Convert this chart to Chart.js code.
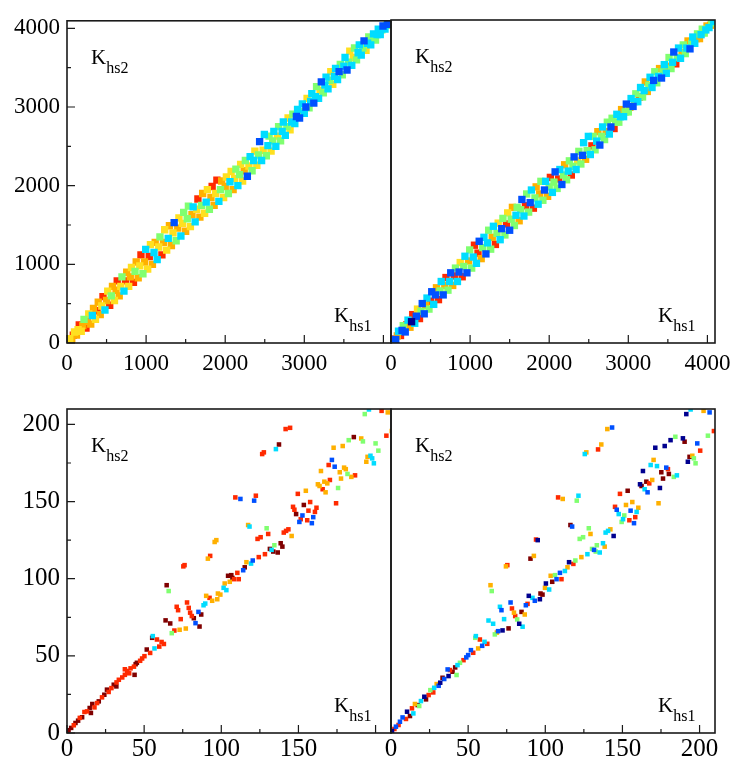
<!DOCTYPE html>
<html>
<head>
<meta charset="utf-8">
<script src="https://cdn.jsdelivr.net/npm/chart.js@4.4.0/dist/chart.umd.min.js"></script>
<style>
  body { margin: 0; background: #fff; }
  #wrap { position: relative; width: 747px; height: 778px; }
  #wrap canvas { position: absolute; left: 0; top: 0; }
</style>
</head>
<body>
<div id="wrap">
  <canvas id="topLeft" width="747" height="778"></canvas>
  <canvas id="topRight" width="747" height="778"></canvas>
  <canvas id="bottomLeft" width="747" height="778"></canvas>
  <canvas id="bottomRight" width="747" height="778"></canvas>
</div>
<script>
// colour classes (jet-like), indexed by the third value of every point
const colours = ['#00008f', '#0050ff', '#00dcff', '#80ff70', '#ffe020', '#ffb000', '#ff2a00', '#800000'];

// axis ranges and ticks
const topMax = 4096;
const topTicks = [0, 500, 1000, 1500, 2000, 2500, 3000, 3500, 4000];
const topLabelStep = 1000;
const bottomMax = 210;
const bottomTicks = [0, 25, 50, 75, 100, 125, 150, 175, 200];
const bottomLabelStep = 50;

// full range, first column: [Khs1, Khs2, colour]
const topLeftPoints = [
  [0,0,7],[20,25,5],[35,55,4], [60,40,5],[80,100,6],[95,140,4], [120,100,5],[140,170,4],[155,230,6],
  [180,150,4],[200,220,5],[215,300,3], [240,190,6],[260,280,5],[275,370,4], [300,240,5],[320,350,2],[335,440,5],
  [360,300,4],[380,410,6],[395,520,5], [420,360,5],[440,470,4],[455,590,6], [480,420,2],[500,540,5],[515,660,4],
  [540,480,6],[560,600,3],[575,720,5], [600,540,4],[620,670,5],[635,790,6], [660,600,5],[680,720,4],[695,840,3],
  [720,660,2],[740,790,6],[755,900,5], [780,720,4],[800,840,5],[815,960,4], [840,770,6],[860,910,3],[875,1030,5],
  [900,830,5],[920,980,4],[935,1120,6], [960,880,3],[980,1030,5],[995,1190,2], [1020,940,4],[1040,1100,6],[1055,1250,4],
  [1080,1000,5],[1100,1150,2],[1115,1280,5], [1140,1060,2],[1160,1220,4],[1175,1350,3], [1200,1120,6],[1220,1280,5],[1235,1440,4],
  [1260,1180,4],[1280,1330,2],[1295,1490,5], [1320,1240,5],[1340,1400,4],[1355,1530,1], [1380,1300,3],[1400,1460,5],[1415,1590,4],
  [1440,1360,2],[1460,1520,4],[1475,1660,3], [1500,1420,5],[1520,1580,3],[1535,1740,3], [1560,1480,4],[1580,1630,5],[1595,1730,2],
  [1620,1540,2],[1640,1700,4],[1655,1830,6], [1680,1600,5],[1700,1750,3],[1715,1900,5], [1740,1650,4],[1760,1790,2],[1775,1950,4],
  [1800,1700,3],[1820,1850,5],[1835,1990,6], [1860,1750,5],[1880,1900,4],[1895,2070,6], [1920,1800,2],[1940,1950,3],[1955,2060,5],
  [1980,1850,4],[2000,1990,5],[2015,2110,4], [2040,1900,3],[2060,2050,2],[2075,2180,4], [2100,1950,5],[2120,2090,4],[2135,2210,3],
  [2160,2000,2],[2180,2140,3],[2195,2270,4], [2220,2060,4],[2240,2190,5],[2255,2320,3], [2280,2120,1],[2300,2250,4],[2315,2370,2],
  [2340,2190,3],[2360,2320,2],[2375,2440,4], [2400,2260,4],[2420,2390,3],[2435,2560,1], [2460,2320,2],[2480,2450,4],[2495,2650,2],
  [2520,2380,3],[2540,2510,2],[2555,2630,3], [2580,2440,4],[2600,2570,3],[2615,2690,2], [2640,2500,2],[2660,2630,4],[2675,2750,3],
  [2700,2570,3],[2720,2690,2],[2735,2810,2], [2760,2640,2],[2780,2750,3],[2795,2860,4], [2820,2710,4],[2840,2810,2],[2855,2910,3],
  [2880,2790,2],[2900,2880,1],[2915,2970,2], [2940,2860,1],[2960,2940,3],[2975,3040,2], [3000,2920,2],[3020,3000,1],[3035,3110,4],
  [3060,2990,3],[3080,3070,2],[3095,3170,2], [3120,3050,1],[3140,3130,2],[3155,3260,3], [3180,3110,2],[3200,3210,4],[3215,3320,1],
  [3240,3180,3],[3260,3280,2],[3275,3380,2], [3300,3230,2],[3320,3340,3],[3335,3450,4], [3360,3290,4],[3380,3390,2],[3395,3490,2],
  [3420,3350,2],[3440,3450,1],[3455,3540,3], [3480,3410,3],[3500,3520,2],[3515,3630,2], [3540,3470,1],[3560,3570,3],[3575,3710,4],
  [3600,3530,2],[3620,3630,4],[3635,3750,3], [3660,3600,3],[3680,3690,2],[3695,3790,2], [3720,3660,2],[3740,3750,3],[3755,3840,1],
  [3780,3720,4],[3800,3810,2],[3815,3890,3], [3840,3790,2],[3860,3870,3],[3875,3930,2], [3900,3850,3],[3920,3920,2],[3935,3990,2],
  [3960,3920,2],[3980,3980,3],[3995,4030,1], [4020,3990,2],[4040,4040,3],[4055,4070,1], [4070,4050,1],[4080,4080,2],[4090,4090,1]
];

// full range, second column
const topRightPoints = [
  [0,0,7],[20,30,1],[35,50,6], [60,45,1],[80,90,5],[95,150,2], [120,95,6],[140,160,1],[155,220,3],
  [180,140,1],[200,230,6],[215,290,2], [240,200,5],[260,270,0],[275,360,6], [300,250,2],[320,340,1],[335,430,4],
  [360,310,6],[380,400,3],[395,500,1], [420,370,1],[440,480,5],[455,570,2], [480,430,3],[500,530,6],[515,650,1],
  [540,490,2],[560,610,1],[575,700,5], [600,550,6],[620,660,3],[635,780,2], [660,610,1],[680,730,5],[695,830,6],
  [720,670,3],[740,780,2],[755,890,1], [780,730,5],[800,850,6],[815,950,3], [840,780,2],[860,900,1],[875,1020,4],
  [900,840,6],[920,970,3],[935,1100,2], [960,890,1],[980,1040,5],[995,1180,3], [1020,950,3],[1040,1090,2],[1055,1240,6],
  [1080,1010,2],[1100,1140,6],[1115,1290,1], [1140,1070,5],[1160,1210,3],[1175,1340,2], [1200,1130,1],[1220,1270,2],[1235,1430,3],
  [1260,1190,3],[1280,1340,5],[1295,1480,2], [1320,1250,6],[1340,1390,3],[1355,1520,4], [1380,1310,2],[1400,1450,1],[1415,1580,3],
  [1440,1370,3],[1460,1510,6],[1475,1650,4], [1500,1430,1],[1520,1570,3],[1535,1720,5], [1560,1490,3],[1580,1620,2],[1595,1720,3],
  [1620,1550,5],[1640,1690,3],[1655,1820,1], [1680,1610,2],[1700,1740,6],[1715,1890,3], [1740,1660,3],[1760,1780,1],[1775,1940,2],
  [1800,1710,6],[1820,1840,3],[1835,1980,5], [1860,1760,2],[1880,1890,5],[1895,2050,3], [1920,1810,3],[1940,1940,1],[1955,2050,2],
  [1980,1860,5],[2000,1980,3],[2015,2100,6], [2040,1910,2],[2060,2040,3],[2075,2170,1], [2100,1960,3],[2120,2080,6],[2135,2200,2],
  [2160,2010,1],[2180,2130,3],[2195,2260,5], [2220,2070,3],[2240,2180,2],[2255,2310,3], [2280,2130,6],[2300,2240,3],[2315,2360,1],
  [2340,2200,2],[2360,2310,4],[2375,2430,3], [2400,2270,3],[2420,2380,1],[2435,2540,2], [2460,2330,5],[2480,2440,3],[2495,2620,2],
  [2520,2390,2],[2540,2500,6],[2555,2620,3], [2580,2450,3],[2600,2560,2],[2615,2680,5], [2640,2510,1],[2660,2620,3],[2675,2740,2],
  [2700,2580,3],[2720,2680,5],[2735,2800,3], [2760,2650,2],[2780,2740,1],[2795,2850,3], [2820,2720,6],[2840,2800,3],[2855,2900,2],
  [2880,2800,3],[2900,2870,2],[2915,2960,5], [2940,2870,2],[2960,2930,3],[2975,3030,1], [3000,2930,3],[3020,2990,5],[3035,3100,2],
  [3060,3000,1],[3080,3060,3],[3095,3160,3], [3120,3060,2],[3140,3120,6],[3155,3240,2], [3180,3120,3],[3200,3200,2],[3215,3310,5],
  [3240,3190,5],[3260,3270,3],[3275,3370,2], [3300,3240,2],[3320,3330,1],[3335,3440,3], [3360,3300,3],[3380,3380,2],[3395,3480,5],
  [3420,3360,1],[3440,3440,3],[3455,3530,2], [3480,3420,2],[3500,3510,5],[3515,3620,3], [3540,3480,3],[3560,3560,2],[3575,3690,1],
  [3600,3540,6],[3620,3620,3],[3635,3740,2], [3660,3610,2],[3680,3680,5],[3695,3780,3], [3720,3670,3],[3740,3740,2],[3755,3830,5],
  [3780,3730,1],[3800,3800,3],[3815,3880,2], [3840,3800,2],[3860,3860,5],[3875,3920,3], [3900,3860,5],[3920,3910,2],[3935,3980,3],
  [3960,3930,3],[3980,3970,2],[3995,4020,5], [4020,4000,2],[4040,4030,5],[4055,4060,3], [4070,4060,3],[4080,4080,2],[4090,4090,5]
];

// low range, first column
const bottomLeftPoints = [
  [0.2,0.5,7],[1,1.8,7],[2.7,3.3,7],[4.4,5,6],[5.5,6.5,7],[7.2,8,7],[8.3,9.8,6],[9.8,10.2,7],[11.3,13.6,6],[15.5,13,7],
  [13,14,6],[14.7,16.2,7],[17.8,16.6,6],[16.4,18.8,7],[19.5,19.4,6],[20.6,20.5,7],[22.7,23.1,6],[24.2,24.8,7],[27,26.6,6],[25.9,28.1,7],
  [28.8,29.1,6],[32,30.2,7],[30.3,31.3,7],[32.1,32.8,6],[33.6,34.5,6],[35.8,36,6],[37.5,37.7,6],[43.8,37.7,7],[40.3,38.7,6],[39,40.2,6],
  [37.5,41.3,6],[41.2,41.9,6],[43.4,43,6],[44.5,44.6,7],[45.3,45.5,7],[47.4,46.8,6],[48.7,48.3,6],[50.2,49.8,6],[53.9,51.9,6],[51.7,54.1,7],
  [56.7,54.8,2],[59.8,56,6],[62.8,57.7,6],[61.3,59,6],[58.3,60.6,6],[55.2,61.7,7],[55.6,62.8,2],[67.9,64.7,3],[69.6,66.4,6],[73,66.9,5],
  [77,67.7,5],[66.9,71,7],[63.9,73,7],[73.7,73.8,6],
  [114.2,105.5,1],[110.4,103.8,6],[111.3,99.7,6],[108.3,99.7,6],[106.5,102.3,7],[104.4,101.9,7],[107.2,100.5,7],[105.5,98,5],[102.2,96.9,5],[101.5,94.1,2],
  [103.3,92.6,2],[96.8,125,5],[95.7,123.8,5],[92.8,114.8,6],[91.3,113,5],[75.4,108,6],[76.2,108.8,6],[64.6,95.8,7],[65.9,92,3],[71.1,81.8,6],
  [72,79.6,6],[77.8,84.6,6],[78.9,81.1,6],[79.8,78,6],[80.9,75.8,6],[82.2,74.4,7],[83.3,71.2,1],[85.9,69,7],[85.2,78.5,1],[87,76.8,7],
  [88.5,82.8,2],[89.6,83.9,2],[90.2,88.9,5],[92.4,87.6,6],[94.1,85.7,5],[97.4,86.7,5],[97.8,90.4,5],[99.4,89.7,5],
  [195.7,209.7,2],[193,206.7,3],[203.9,208.8,6],[207.9,207.8,5],[207,192.7,6],[210.5,195.7,5],[141.7,197,6],[144.6,197.8,6],[126.5,180.8,6],[127.6,181.9,6],
  [137.4,187,7],[135.4,184,2],[185.9,191.8,7],[182.6,189.8,3],[190.7,190.9,5],[191.8,189,3],[200,187.7,3],[201.8,183,3],[172.8,184.9,5],[178.7,186,5],
  [169.6,173.7,6],[171.7,177,1],[173.5,172.6,1],[164.6,169.8,5],[179.6,172,5],[180.7,171,5],[176.8,169,5],[181.8,167.9,3],[175.7,158.8,3],[177.6,164.9,5],
  [184.3,166,5],[186.7,167,6],[194,175.8,5],[194.8,179,5],[196.7,179.7,2],[197.8,178,2],[198.9,174.8,2],[174.4,148.9,6],[170.4,164,6],[166.8,162.9,5],
  [168.7,161.8,5],[162.6,161.2,5],[163.7,160.1,5],[165.7,158,6],[167.6,156,5],[154.8,157,5],[149.6,155,6],[146.5,146.6,6],[147.4,144.7,6],[148.5,141.9,7],
  [153.5,147.8,7],[157.6,149.7,6],[161.7,146,6],[156.5,144.1,6],[160.7,143.3,6],[159.6,139.9,1],[152.6,141,1],[151.5,138.6,6],[150.6,136.8,1],[155.7,137.9,6],
  [158.7,136,1],[109.1,152.7,6],[112.4,151.7,1],[122.4,153.8,6],[121.3,150.6,1],[117.4,134.8,5],[118.3,133.8,2],[129.4,132.7,3],[130.4,129,6],[123.5,125.8,6],
  [125.5,126.9,6],[140.5,129.9,6],[142,131,6],[143.5,132,6],[145.6,127.7,5],[138.5,123,7],[139.6,120.8,7],[134.4,121.7,3],[131.5,119.3,7],[132.6,118.7,2],
  [133.7,117.6,7],[136.6,117,7],[128.3,115.9,6],[124.3,114,6],[120.4,111.8,1],[119.3,109.8,2],[116.3,110.7,5],[115.2,107.4,7]
];

// low range, second column
const bottomRightPoints = [
  [0.65,1.3,0],[2.2,2.6,6],[3.2,4.1,1],[4.9,5.2,6],[5.8,7.3,1],[9.7,9.1,6],[7.5,10.1,1],[12.3,11,7],[14.5,12.7,2],[10.4,13.8,0],
  [13.6,16,6],[17.3,18.1,7],[18.3,17.5,3],[15.5,18.8,5],[19.4,20.7,2],[22.7,21.8,7],[21.6,23.5,0],[24.4,24.6,6],[27.4,26.3,6],[25.5,27.8,3],
  [28,29.3,2],[30.9,30.6,1],[29.6,31.7,5],[31.9,32.6,0],[34.5,35,1],[33.4,35.8,7],[37.3,36.9,0],[42.5,37.6,3],[39.9,39.7,7],[38.2,40.8,6],
  [36.7,41.2,1],[41.6,42.5,7],[43.1,44,2],[44.7,45.5,3],[47,47.2,6],[48.8,49,1],[50,50.5,1],[53.3,52,6],[51.8,53.7,1],[56.5,54.8,5],
  [59.1,56.5,1],[62.4,57.8,6],[60.6,59.1,2],[57.6,60.6,6],[54.6,61.7,3],[55,62.8,2],[67.3,63.9,3],[68.6,65.1,5],[69.4,66,1],[72.3,66.5,0],
  [76.2,67.8,7],[66.2,70.8,2],[63.2,72.9,2],[73.3,73.8,2],
  [112.7,105,2],[109.5,103.8,1],[106.3,102.3,3],[103.5,101.9,5],[110.5,99.7,6],[107.3,99.7,1],[104.5,98,7],[100.4,96.9,0],[99.8,94.1,5],[102.5,93,2],
  [94,125.4,6],[95.1,125,0],[90.4,113,7],[92.6,114.8,5],[74.5,108,5],[75.4,108.8,6],[64.5,95.8,5],[65.3,92,3],[77.5,84.6,1],[70.6,81.8,2],
  [71.6,79.6,1],[78.4,80.7,6],[79.7,78,5],[80.5,75.8,6],[81.8,73.6,3],[83.1,70.8,0],[85.3,68.9,2],[84.6,78.5,7],[86.7,76.8,5],[87.4,82.8,1],
  [88.5,83.7,6],[89.3,88.9,0],[91.7,87.6,2],[93.2,85.7,1],[96.5,86.7,0],[96.9,90.4,7],[98.2,89.7,7],
  [191.4,206.7,0],[194.2,209.7,2],[202.6,208.8,5],[206.5,207.8,1],[209.3,195.7,6],[205.4,192.7,3],[140.2,197,5],[143.3,198,1],[136.3,187,5],[134.2,183.8,6],
  [125.6,180.8,2],[126.6,181.9,5],[171.3,184.9,0],[177.4,186,0],[181.2,189.8,0],[184.3,192,3],[189.2,191,0],[190.3,188.8,7],[198.5,187.7,1],[200.4,183,6],
  [192.4,175.8,0],[193.5,179,7],[195.3,179.7,5],[196.3,178,3],[197.4,174.8,3],[170.2,177,5],[168.3,173.7,2],[163.3,169.8,0],[172.4,173,2],[178.4,172,1],
  [179.5,171,6],[175.2,169,7],[180.1,167.9,7],[176.3,164.9,7],[183.3,166,3],[185.3,167,2],[169.3,164,5],[165.5,162.9,7],[167.4,161.8,6],[161.4,161.2,0],
  [162.4,160.1,7],[164.4,158,2],[166.3,156,1],[174.3,158.8,0],[153.4,157,7],[148.4,155,6],[173.4,148.9,5],[145.2,146.6,6],[146.3,144.7,1],[147.6,141.9,2],
  [152.3,147.8,5],[156.4,149.7,5],[160.3,146,5],[155.3,144.1,1],[159.2,143.3,2],[158.3,139.9,6],[151.2,141,3],[150.4,138.6,2],[149.5,136.8,3],[154.5,137.9,6],
  [157.5,136,1],[108.3,152.7,6],[111.3,151.7,5],[121.5,153.8,2],[120.4,150.6,3],[116.3,134.8,7],[117.4,133.8,1],[128.2,132.7,3],[129.3,129,5],[122.3,125.8,3],
  [124.5,126.9,3],[139.1,129.9,2],[140.7,131,2],[142.2,132,5],[144.3,127.7,0],[137.4,123,2],[138.5,120.8,5],[133.4,121.7,3],[130.3,119.3,3],[131.6,118.7,1],
  [132.7,117.6,3],[135.3,117,2],[127.3,115.9,2],[123.4,114,5],[119.5,111.8,3],[115.4,110.7,0],[118.2,109.6,6],[114.4,107.4,5]
];

Chart.defaults.font.family = '"Liberation Serif", "Times New Roman", serif';
Chart.defaults.color = '#000';

// frame, inward ticks and the K labels
const framePlugin = {
  id: 'frame',
  afterDatasetsDraw(chart, args, opts) {
    const { ctx, chartArea: a } = chart;
    const xs = chart.scales.x, ys = chart.scales.y;
    ctx.save();
    ctx.strokeStyle = '#1a1a1a';
    ctx.lineWidth = 1.2;
    ctx.beginPath();
    xs.ticks.forEach(t => {
      const px = xs.getPixelForValue(t.value);
      const len = t.value % opts.labelStep === 0 ? 8 : 4;
      ctx.moveTo(px, a.bottom);
      ctx.lineTo(px, a.bottom - len);
    });
    if (opts.leftTicks) {
      ys.ticks.forEach(t => {
        const py = ys.getPixelForValue(t.value);
        const len = t.value % opts.labelStep === 0 ? 8 : 4;
        ctx.moveTo(a.left, py);
        ctx.lineTo(a.left + len, py);
      });
    }
    ctx.stroke();
    ctx.lineWidth = 1.6;
    ctx.strokeRect(a.left, a.top, a.right - a.left, a.bottom - a.top);

    ctx.fillStyle = '#000';
    ctx.textBaseline = 'alphabetic';
    ctx.textAlign = 'left';
    const drawK = (sub, x, y) => {
      ctx.font = '21px "Liberation Serif"';
      ctx.fillText('K', x, y);
      const w = ctx.measureText('K').width;
      ctx.font = '16px "Liberation Serif"';
      ctx.fillText(sub, x + w, y + 9);
    };
    drawK('hs2', a.left + 24, a.top + 43);
    drawK('hs1', a.right - 57, a.bottom - 21);
    ctx.restore();
  }
};

function makePanel(id, points, cfg) {
  const datasets = colours.map((c, i) => ({
    data: points.filter(p => p[2] === i).map(p => ({ x: p[0], y: p[1] })),
    pointStyle: 'rect',
    pointRadius: cfg.radius,
    pointHoverRadius: cfg.radius,
    backgroundColor: c,
    borderColor: c,
    pointBorderWidth: 0,
    borderWidth: 0,
    showLine: false,
    clip: 0
  })).filter(d => d.data.length);

  const setTicks = s => { s.ticks = cfg.ticks.map(v => ({ value: v })); };
  const xLabel = v => (v % cfg.labelStep === 0 && !(cfg.hideLast && v === cfg.ticks[cfg.ticks.length - 1])) ? String(v) : '';
  const yLabel = v => (v % cfg.labelStep === 0 ? String(v) : '');

  new Chart(document.getElementById(id), {
    type: 'scatter',
    data: { datasets },
    options: {
      responsive: false,
      animation: false,
      events: [],
      layout: { autoPadding: false, padding: cfg.padding },
      plugins: {
        legend: { display: false },
        tooltip: { enabled: false },
        frame: { labelStep: cfg.labelStep, leftTicks: cfg.showY }
      },
      scales: {
        x: {
          type: 'linear', min: 0, max: cfg.max,
          grid: { display: false, drawTicks: false },
          border: { display: false },
          afterBuildTicks: setTicks,
          ticks: { autoSkip: false, maxRotation: 0, padding: cfg.xPad, font: { size: cfg.fontSize }, callback: xLabel },
          afterFit: s => { s.height = 37; }
        },
        y: {
          type: 'linear', min: 0, max: cfg.max,
          display: cfg.showY,
          grid: { display: false, drawTicks: false },
          border: { display: false },
          afterBuildTicks: setTicks,
          ticks: { autoSkip: false, padding: 7, font: { size: cfg.fontSize }, callback: yLabel },
          afterFit: s => { s.width = cfg.showY ? 67 : 0; }
        }
      }
    },
    plugins: [framePlugin]
  });
}

makePanel('topLeft', topLeftPoints, {
  max: topMax, ticks: topTicks, labelStep: topLabelStep, hideLast: true, fontSize: 23, xPad: 7,
  showY: true, radius: 5.2, padding: { left: 0, top: 20, right: 356, bottom: 398 }
});
makePanel('topRight', topRightPoints, {
  max: topMax, ticks: topTicks, labelStep: topLabelStep, hideLast: false, fontSize: 23, xPad: 7,
  showY: false, radius: 5.2, padding: { left: 391, top: 20, right: 32, bottom: 398 }
});
makePanel('bottomLeft', bottomLeftPoints, {
  max: bottomMax, ticks: bottomTicks, labelStep: bottomLabelStep, hideLast: true, fontSize: 25, xPad: 1,
  showY: true, radius: 3.2, padding: { left: 0, top: 409, right: 356, bottom: 8 }
});
makePanel('bottomRight', bottomRightPoints, {
  max: bottomMax, ticks: bottomTicks, labelStep: bottomLabelStep, hideLast: false, fontSize: 25, xPad: 1,
  showY: false, radius: 3.2, padding: { left: 391, top: 409, right: 32, bottom: 8 }
});
</script>
</body>
</html>
